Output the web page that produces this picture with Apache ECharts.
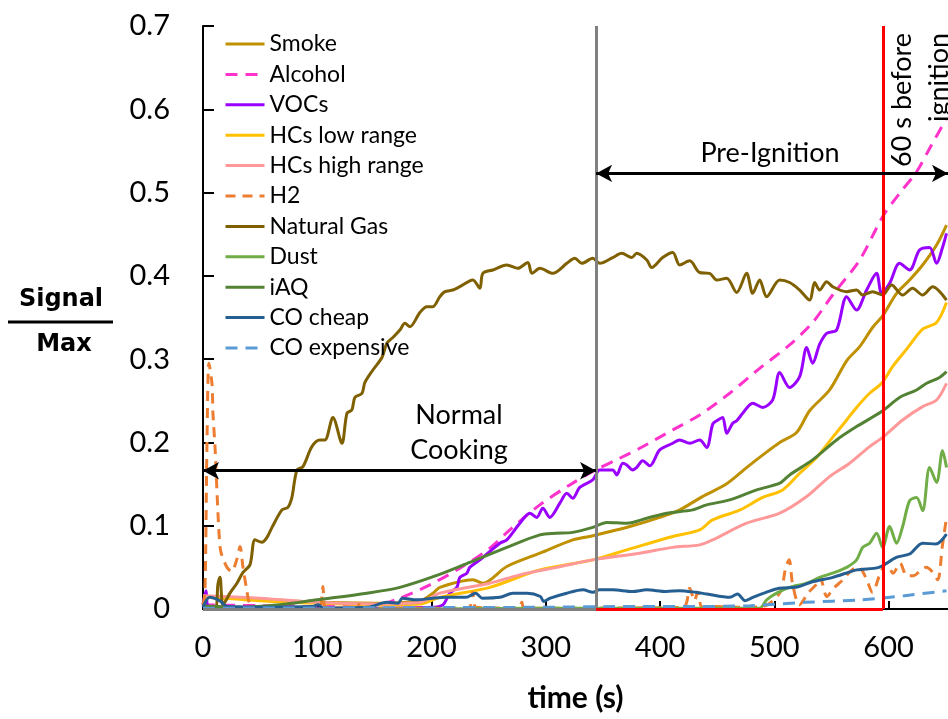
<!DOCTYPE html>
<html>
<head>
<meta charset="UTF-8">
<title>Signal / Max vs time</title>
<script src="https://cdn.jsdelivr.net/npm/echarts@6/dist/echarts.min.js"></script>
<style>
  html, body { margin: 0; padding: 0; background: #ffffff; }
  #chart { width: 948px; height: 719px; }
</style>
</head>
<body>
<div id="chart"></div>
<script>
// sensor traces, [time (s), signal/max]
const smoke = [[0,0.014],[20,0.013],[50,0.012],[100,0.008],[150,0.007],[190,0.010],[201.2,0.019],[207.3,0.026],[236.2,0.035],[244.9,0.031],[265.9,0.051],[294.8,0.067],[323.6,0.083],[341.1,0.088],[373.5,0.099],[399.7,0.110],[417.2,0.119],[437,0.135],[458,0.150],[476,0.170],[490,0.185],[504.7,0.200],[519.5,0.212],[530.9,0.238],[548.4,0.263],[563.3,0.298],[574.7,0.315],[586,0.338],[594.8,0.352],[607,0.379],[618.4,0.395],[629.8,0.413],[642,0.437],[650.7,0.461]];
const alcohol = [[0,0.005],[50,0.004],[100,0.003],[150,0.004],[172.3,0.013],[198.5,0.029],[224.8,0.049],[251,0.073],[268.5,0.095],[294.8,0.125],[321,0.149],[343.7,0.167],[364.7,0.181],[382.2,0.193],[411.1,0.215],[434.7,0.233],[460.9,0.259],[487.2,0.289],[513.4,0.317],[533.5,0.344],[551,0.377],[574.7,0.419],[594.8,0.471],[609.6,0.499],[624.5,0.525],[635.9,0.553],[650.7,0.589]];
const vocs = [[0,0.005],[2.6,0.022],[5,0.003],[50,0.002],[100,0.001],[150,0.001],[200,0.002],[209.9,0.005],[216,0.019],[222.2,0.026],[224.8,0.038],[230.9,0.043],[233.5,0.050],[242.3,0.059],[259.8,0.079],[265.9,0.083],[277.3,0.103],[286,0.115],[292.1,0.110],[297.4,0.121],[303.5,0.110],[312.3,0.127],[318.4,0.139],[323.6,0.133],[329.7,0.146],[341.1,0.155],[347.2,0.167],[353.4,0.167],[358.6,0.167],[362.1,0.161],[367.4,0.175],[370.9,0.173],[376.1,0.167],[379.6,0.170],[384.8,0.178],[391,0.172],[399.7,0.191],[411.1,0.199],[417.2,0.203],[426,0.199],[434.7,0.203],[440.8,0.194],[446.1,0.222],[449.6,0.226],[454.8,0.230],[458.3,0.211],[463.6,0.223],[467.1,0.226],[472.3,0.235],[481.1,0.247],[489.8,0.242],[498.6,0.251],[504.7,0.284],[513.4,0.266],[522.2,0.279],[528.3,0.314],[533.5,0.295],[539.7,0.318],[545.8,0.331],[554.5,0.335],[563.3,0.375],[572,0.359],[580.8,0.383],[589.5,0.403],[593.9,0.379],[600.9,0.391],[609.6,0.415],[618.4,0.407],[627.1,0.431],[635.9,0.434],[642,0.415],[647.2,0.434],[650.7,0.451]];
const hcsLow = [[0,0.014],[20,0.013],[50,0.010],[100,0.007],[150,0.005],[190,0.006],[207.3,0.014],[251,0.026],[294.8,0.047],[341.1,0.059],[370.9,0.071],[411.1,0.087],[434.7,0.095],[446,0.107],[470,0.119],[489.8,0.134],[507.3,0.143],[522.2,0.163],[537,0.182],[551,0.206],[563.3,0.227],[572,0.242],[583.4,0.259],[593.9,0.271],[603.5,0.291],[615.8,0.312],[629.8,0.336],[642,0.344],[650.7,0.368]];
const hcsHigh = [[0,0.016],[20,0.015],[50,0.013],[100,0.008],[150,0.006],[190,0.008],[207.3,0.019],[251,0.031],[277.3,0.041],[309.6,0.050],[341.1,0.059],[382.2,0.067],[411.1,0.074],[434.7,0.077],[446,0.083],[475.8,0.103],[504.7,0.115],[528.3,0.135],[548.4,0.159],[565.9,0.175],[583.4,0.195],[594.8,0.206],[612.3,0.227],[629.8,0.243],[642,0.251],[650.7,0.271]];
const h2 = [[0,0.005],[1.7,0.02],[3.5,0.2],[5.2,0.295],[7.9,0.27],[8.7,0.235],[10.5,0.195],[13.1,0.115],[14.9,0.075],[16.6,0.064],[21,0.05],[25,0.045],[29.7,0.06],[32.4,0.075],[35,0.05],[38,0.025],[41,0.005],[45,0.001],[100,0.001],[103,0.004],[105,0.027],[107,0.003],[135,0.001],[137,0.008],[139,0.001],[232,0.001],[236,0.02],[239,0.002],[276,0.001],[279,0.008],[281,0.001],[420,0.002],[426,0.025],[430,0.01],[433,0.02],[437,0.002],[450,0.003],[470,0.002],[490,0.003],[505,0.02],[510,0.05],[513,0.059],[516,0.03],[522,0.005],[530,0.02],[537,0.03],[540,0.038],[546,0.015],[552,0.025],[560,0.035],[568,0.047],[574,0.05],[580,0.038],[586,0.02],[592,0.04],[598,0.055],[604,0.043],[610,0.055],[616,0.04],[622,0.04],[627,0.045],[633,0.05],[638,0.045],[643,0.035],[647,0.075],[650.7,0.11]];
const naturalGas = [[0,0.003],[10.5,0.002],[13.1,0.030],[14.9,0.038],[17.5,0.005],[23.6,0.019],[29.7,0.031],[35,0.044],[41.1,0.053],[45.5,0.083],[51.6,0.080],[56,0.086],[60.4,0.098],[69.1,0.119],[74.3,0.122],[77.8,0.134],[82.2,0.167],[87.5,0.171],[95.3,0.195],[102.3,0.203],[106.7,0.203],[113.7,0.230],[121.6,0.199],[126,0.235],[130.3,0.239],[132.9,0.254],[139.1,0.259],[141.7,0.272],[148.7,0.287],[156.6,0.302],[160.9,0.319],[166.2,0.326],[172.3,0.335],[176.7,0.343],[181.1,0.339],[189.8,0.356],[195.9,0.363],[201.2,0.363],[207.3,0.375],[211.7,0.381],[218.7,0.383],[224.8,0.387],[236.2,0.395],[242.3,0.385],[244.9,0.403],[253.6,0.407],[265.9,0.413],[275.5,0.409],[284.3,0.416],[287.8,0.403],[294.8,0.409],[306.1,0.403],[318.4,0.415],[325.4,0.421],[331.5,0.415],[341.1,0.421],[347.2,0.415],[358.6,0.422],[366.5,0.427],[375.2,0.422],[379.6,0.427],[388.4,0.419],[392.7,0.410],[402.3,0.422],[411.1,0.428],[417.2,0.413],[426,0.418],[434.7,0.404],[443.4,0.403],[449.6,0.395],[458.3,0.397],[467.1,0.380],[475.8,0.403],[481.1,0.379],[487.2,0.395],[493.3,0.375],[504.7,0.395],[513.4,0.392],[522.2,0.383],[530.9,0.371],[535.3,0.392],[539.7,0.383],[545.8,0.393],[551,0.387],[563.3,0.381],[572,0.383],[577.3,0.377],[586,0.381],[594.8,0.377],[602.6,0.389],[612.3,0.377],[621,0.385],[629.8,0.377],[638.5,0.387],[650.7,0.371]];
const dust = [[0,0],[100,0],[200,0],[300,0.001],[400,0.001],[487,0.001],[493.3,0.011],[502,0.019],[513.4,0.026],[528.3,0.031],[539.7,0.038],[551,0.043],[563.3,0.050],[572,0.059],[577.3,0.074],[583.4,0.079],[589.5,0.091],[594.8,0.074],[600.9,0.099],[607,0.079],[612.3,0.099],[618.4,0.130],[624.5,0.134],[629.8,0.118],[635.9,0.170],[642,0.152],[647.2,0.190],[650.7,0.170]];
const iaq = [[0,0.004],[34.5,0.002],[67,0.005],[99.7,0.011],[143.4,0.019],[172.3,0.026],[204,0.040],[233.5,0.056],[265.9,0.074],[294.8,0.089],[309,0.091],[323.6,0.092],[341.1,0.098],[353.4,0.104],[370.9,0.103],[388.4,0.109],[405.8,0.115],[428.6,0.119],[440.8,0.125],[460.9,0.131],[484.6,0.143],[504.7,0.151],[513.4,0.161],[533.5,0.179],[554.5,0.203],[572,0.219],[593.9,0.237],[609.6,0.254],[624.5,0.263],[633.3,0.271],[644.6,0.278],[650.7,0.285]];
const coCheap = [[0,0.002],[5.8,0.014],[14.4,0.010],[21.1,0.003],[47.9,0.002],[95.9,0.003],[100.7,0.005],[105.4,0.001],[143.8,0.002],[161,0.008],[170.6,0.007],[174.5,0.013],[186.9,0.011],[201.3,0.013],[212.8,0.014],[230,0.014],[238.7,0.019],[244.4,0.013],[259.8,0.014],[271.3,0.019],[283.7,0.019],[295.3,0.015],[298.1,0.009],[303.9,0.013],[318.3,0.019],[332.6,0.023],[341.3,0.020],[347,0.023],[358.5,0.023],[375.8,0.021],[388.2,0.023],[405.5,0.021],[417,0.022],[431.4,0.020],[441,0.018],[461.1,0.014],[467.8,0.018],[474.5,0.010],[481.2,0.014],[492.7,0.020],[504.2,0.025],[518.6,0.026],[534,0.033],[551.2,0.038],[572.3,0.047],[591.5,0.050],[606.8,0.062],[618.3,0.066],[629.8,0.079],[641.3,0.078],[650.7,0.090]];
const coExpensive = [[0,0.001],[287,0.002],[383,0.003],[431,0.003],[479,0.004],[527,0.008],[575,0.011],[614,0.016],[650.7,0.022]];

const seriesNames = ['Smoke', 'Alcohol', 'VOCs', 'HCs low range', 'HCs high range', 'H2',
  'Natural Gas', 'Dust', 'iAQ', 'CO cheap', 'CO expensive'];

// phase markers (s)
const cookingEnd = 344;
const warnTime = 595;
const tMax = 652;
const cookArrowY = 0.166;
const preArrowY = 0.523;

const font = 'Lato';
const colors = ['#BF9000', '#FF33CC', '#9900FF', '#FFC000', '#FF9999', '#ED7D31',
  '#7F6000', '#70AD47', '#548235', '#255E91', '#5B9BD5'];
const dashes = [null, [12, 8], null, null, null, [10, 7], null, null, null, null, [12, 8]];
const traces = [smoke, alcohol, vocs, hcsLow, hcsHigh, h2, naturalGas, dust, iaq, coCheap, coExpensive];

const series = traces.map(function (d, i) {
  return {
    name: seriesNames[i],
    type: 'line',
    data: d,
    symbol: 'none',
    smooth: 0.3,
    color: colors[i],
    lineStyle: { color: colors[i], width: 3, type: dashes[i] || 'solid' },
    z: 2
  };
});

// phase lines and arrows
series.push({
  name: 'markers',
  type: 'line',
  data: [[0, 0]],
  symbol: 'none',
  lineStyle: { opacity: 0 },
  silent: true,
  z: 5,
  markLine: {
    silent: true,
    symbol: 'none',
    label: { show: false },
    animation: false,
    data: [
      [{ coord: [cookingEnd, 0], lineStyle: { color: '#808080', width: 3, type: 'solid' } }, { coord: [cookingEnd, 0.7] }],
      [{ coord: [0, 0], lineStyle: { color: '#808080', width: 3, type: 'solid' } }, { coord: [cookingEnd, 0] }],
      [{ coord: [warnTime, 0], lineStyle: { color: '#FF0000', width: 3, type: 'solid' } }, { coord: [warnTime, 0.7] }],
      [{ coord: [cookingEnd, 0], lineStyle: { color: '#FF0000', width: 3, type: 'solid' } }, { coord: [warnTime, 0] }]
    ]
  }
});
series.push({
  name: 'arrows',
  type: 'line',
  data: [[0, 0]],
  symbol: 'none',
  lineStyle: { opacity: 0 },
  silent: true,
  z: 6,
  markLine: {
    silent: true,
    symbol: ['arrow', 'arrow'],
    symbolSize: [13, 16],
    label: { show: false },
    animation: false,
    lineStyle: { color: '#000000', width: 3, type: 'solid' },
    data: [
      [{ coord: [0, cookArrowY] }, { coord: [cookingEnd, cookArrowY] }],
      [{ coord: [cookingEnd, preArrowY] }, { coord: [tMax, preArrowY] }]
    ]
  }
});

const option = {
  backgroundColor: '#ffffff',
  animation: false,
  grid: { left: 203, right: 0, top: 26, bottom: 110, outerBoundsMode: 'none', containLabel: false },
  legend: {
    data: seriesNames,
    orient: 'vertical',
    left: 224,
    top: 31,
    padding: 0,
    itemWidth: 39,
    itemHeight: 12,
    itemGap: 4.4,
    itemStyle: { opacity: 0 },
    lineStyle: { width: 3 },
    textStyle: { fontFamily: font, fontSize: 23, color: '#000000', lineHeight: 26 },
    selectedMode: false
  },
  xAxis: [{
    type: 'value',
    min: 0,
    max: tMax,
    interval: 100,
    name: 'time (s)',
    nameLocation: 'middle',
    nameGap: 74,
    nameTextStyle: { fontFamily: font, fontSize: 30, fontWeight: 'bold', color: '#000000' },
    axisLine: { show: true, onZero: false, lineStyle: { color: '#000000', width: 2 } },
    axisTick: { show: true, inside: true, length: 8, lineStyle: { color: '#000000', width: 2 } },
    axisLabel: {
      margin: 24, fontFamily: font, fontSize: 29, color: '#000000', showMaxLabel: false,
      formatter: function (v) { return v % 100 === 0 ? String(v) : ''; }
    },
    splitLine: { show: false }
  }, {
    type: 'value',
    position: 'top',
    min: 0,
    max: tMax,
    axisLine: { show: true, lineStyle: { color: '#000000', width: 2 } },
    axisTick: { show: false },
    axisLabel: { show: false },
    splitLine: { show: false }
  }],
  yAxis: {
    type: 'value',
    min: 0,
    max: 0.7,
    interval: 0.1,
    axisLine: { show: true, lineStyle: { color: '#000000', width: 2 } },
    axisTick: { show: true, inside: true, length: 11, lineStyle: { color: '#000000', width: 2 } },
    axisLabel: { margin: 33, fontFamily: font, fontSize: 29, color: '#000000' },
    splitLine: { show: false }
  },
  graphic: [
    { type: 'text', x: 61, y: 300, style: { text: 'Signal', font: 'bold 24px "DejaVu Sans"', fill: '#000', align: 'center', verticalAlign: 'middle' } },
    { type: 'line', shape: { x1: 8, y1: 322, x2: 113, y2: 322 }, style: { stroke: '#000', lineWidth: 3 } },
    { type: 'text', x: 64, y: 345, style: { text: 'Max', font: 'bold 24px "DejaVu Sans"', fill: '#000', align: 'center', verticalAlign: 'middle' } },
    { type: 'text', x: 459, y: 433, z: 10, style: { text: 'Normal\nCooking', font: '27px Lato', lineHeight: 35, fill: '#000', align: 'center', verticalAlign: 'middle' } },
    { type: 'text', x: 770, y: 153, z: 10, style: { text: 'Pre-Ignition', font: '27px Lato', fill: '#000', align: 'center', verticalAlign: 'middle' } },
    { type: 'text', x: 921, y: 33, rotation: Math.PI / 2, z: 10, style: { text: '60 s before\nignition', font: '27px Lato', lineHeight: 37, fill: '#000', align: 'right', verticalAlign: 'middle' } }
  ],
  series: series
};

const chart = echarts.init(document.getElementById('chart'));
chart.setOption(option);
</script>
</body>
</html>
